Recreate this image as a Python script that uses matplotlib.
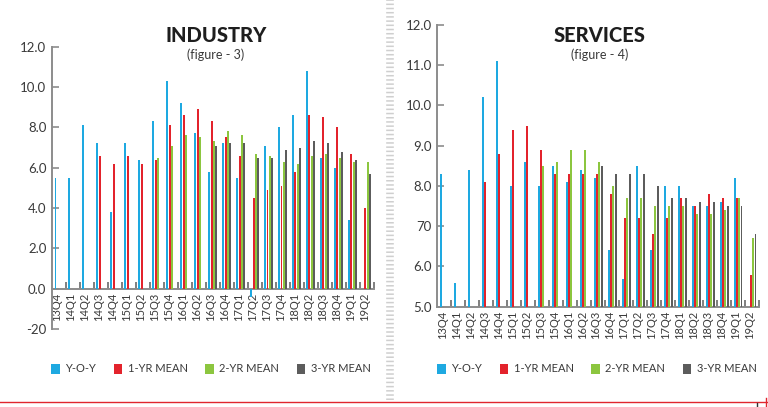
import numpy as np
import matplotlib
matplotlib.use('Agg')
import matplotlib.pyplot as plt
from matplotlib.lines import Line2D
from matplotlib.patches import Patch

plt.rcParams['font.family'] = ['Lato', 'DejaVu Sans']

# ── data ──────────────────────────────────────────────
quarters = ['13Q4', '14Q1', '14Q2', '14Q3', '14Q4', '15Q1', '15Q2', '15Q3',
            '15Q4', '16Q1', '16Q2', '16Q3', '16Q4', '17Q1', '17Q2', '17Q3',
            '17Q4', '18Q1', '18Q2', '18Q3', '18Q4', '19Q1', '19Q2']
N = None

ind_yoy = [5.5, 5.5, 8.1, 7.2, 3.8, 7.2, 6.4, 8.3, 10.3, 9.2, 7.7, 5.8,
           7.2, 5.5, -0.4, 7.1, 8.0, 8.6, 10.8, 6.5, 6.0, 3.4, N]
ind_1yr = [N, N, N, 6.6, 6.2, 6.6, 6.2, 6.4, 8.1, 8.6, 8.9, 8.3,
           7.5, 6.6, 4.5, 4.9, 5.1, 5.8, 8.6, 8.5, 8.0, 6.7, 4.0]
ind_2yr = [N, N, N, N, N, N, N, 6.5, 7.1, 7.6, 7.5, 7.3,
           7.8, 7.6, 6.7, 6.6, 6.3, 6.2, 6.6, 6.7, 6.5, 6.3, 6.3]
ind_3yr = [N, N, N, N, N, N, N, N, N, N, N, 7.1,
           7.2, 7.2, 6.5, 6.5, 6.9, 7.0, 7.3, 7.2, 6.8, 6.4, 5.7]

srv_yoy = [8.3, 5.6, 8.4, 10.2, 11.1, 8.0, 8.6, 8.0, 8.5, 8.1, 8.4, 8.2,
           6.4, 5.7, 8.5, 6.4, 8.0, 8.0, 7.5, 7.5, 7.6, 8.2, N]
srv_1yr = [N, N, N, 8.1, 8.8, 9.4, 9.5, 8.9, 8.3, 8.3, 8.3, 8.3,
           7.8, 7.2, 7.2, 6.8, 7.2, 7.7, 7.5, 7.8, 7.7, 7.7, 5.8]
srv_2yr = [N, N, N, N, N, N, N, 8.5, 8.6, 8.9, 8.9, 8.6,
           8.0, 7.7, 7.7, 7.5, 7.5, 7.5, 7.3, 7.3, 7.4, 7.7, 6.7]
srv_3yr = [N, N, N, N, N, N, N, N, N, N, N, 8.5,
           8.3, 8.3, 8.3, 8.0, 7.7, 7.7, 7.6, 7.6, 7.5, 7.5, 6.8]

series_names = ['Y-O-Y', '1-YR MEAN', '2-YR MEAN', '3-YR MEAN']
COLORS = ['#1ea9e1', '#e3232c', '#8cc63f', '#5c5c5c']

SPINE_C = '#8c8c8c'
TEXT_C = '#3a3a3a'

W, H = 768, 407
fig = plt.figure(figsize=(W / 100, H / 100), dpi=100, facecolor='white')


def px_axes(x0, x1, ytop, ybot):
    return fig.add_axes([x0 / W, 1 - ybot / H, (x1 - x0) / W, (ybot - ytop) / H])


def draw_panel(ax, data, ylim, yticks, yticklabels, zero_at):
    x = np.arange(len(quarters))
    offs = [-0.25, -0.083, 0.083, 0.25]
    for vals, off, c in zip(data, offs, COLORS):
        v = np.array([np.nan if a is None else a for a in vals], dtype=float)
        ax.bar(x + off, v - zero_at, bottom=zero_at, width=0.14, color=c,
               edgecolor='none', zorder=3)
    ax.set_xlim(-0.5, len(quarters) - 0.5)
    ax.set_ylim(*ylim)
    for s in ['top', 'right']:
        ax.spines[s].set_visible(False)
    for s in ['left', 'bottom']:
        ax.spines[s].set_color(SPINE_C)
        ax.spines[s].set_linewidth(1.4)
    ax.spines['bottom'].set_position(('data', zero_at))
    ax.set_yticks(yticks)
    ax.set_yticklabels(yticklabels)
    ax.tick_params(axis='y', direction='in', length=5, width=1.2,
                   color=SPINE_C, labelsize=9.5, labelcolor=TEXT_C, pad=4)
    ax.set_xticks(x - 0.15)
    ax.set_xticklabels(quarters, rotation=90)
    ax.tick_params(axis='x', which='major', length=0, labelsize=8,
                   labelcolor=TEXT_C, pad=3)
    ax.set_xticks(np.arange(0.5, len(quarters), 1), minor=True)
    ax.tick_params(axis='x', which='minor', direction='in', length=5,
                   width=1.2, color='#6a6a6a')
    ax.patch.set_visible(False)


# ── industry ──────────────────────────────────────────
ax1 = px_axes(52, 373.5, 46.7, 329)
draw_panel(ax1, [ind_yoy, ind_1yr, ind_2yr, ind_3yr], (-2, 12),
           [-2, 0, 2, 4, 6, 8, 10, 12],
           ['-20', '0.0', '2.0', '4.0', '6.0', '8.0', '10.0', '12.0'], 0)

# ── services ──────────────────────────────────────────
ax2 = px_axes(437.3, 759, 25, 306.7)
draw_panel(ax2, [srv_yoy, srv_1yr, srv_2yr, srv_3yr], (5, 12),
           [5, 6, 7, 8, 9, 10, 11, 12],
           ['5.0', '6.0', '70', '8.0', '9.0', '10.0', '11.0', '12.0'], 5)

# titles
fig.text(216 / W, 1 - 35 / H, 'INDUSTRY', ha='center', va='center',
         fontsize=14.5, fontweight='black', color='#1e1e1e')
fig.text(216 / W, 1 - 55 / H, '(figure - 3)', ha='center', va='center',
         fontsize=9, color=TEXT_C)
fig.text(600 / W, 1 - 35 / H, 'SERVICES', ha='center', va='center',
         fontsize=14.5, fontweight='black', color='#1e1e1e')
fig.text(600 / W, 1 - 55 / H, '(figure - 4)', ha='center', va='center',
         fontsize=9, color=TEXT_C)

# legends
handles = [Patch(facecolor=c, edgecolor='none') for c in COLORS]
for cx in (211 / W, 597 / W):
    fig.legend(handles, series_names, loc='center', ncol=4,
               bbox_to_anchor=(cx, 1 - 369 / H), frameon=False,
               fontsize=8, labelcolor=TEXT_C, handlelength=0.75,
               handleheight=1.0, handletextpad=0.5, columnspacing=1.6)

# separator and bottom rule
fig.add_artist(Line2D([390 / W, 390 / W], [1 - 400 / H, 1.0], color='#cfcfcf',
                      lw=5.5, dashes=(0.2, 0.35), dash_capstyle='butt'))
fig.add_artist(Line2D([0, 1], [1 - 402 / H, 1 - 402 / H], color='#e0262e', lw=1.0))
fig.add_artist(Line2D([766 / W, 766 / W], [1 - 407 / H, 1 - 398 / H], color='#e0262e', lw=1.0))
fig.add_artist(Line2D([757 / W, 757 / W], [0, 1 - 403 / H], color='#333333', lw=1.0))

fig.savefig('out.png', dpi=100, facecolor='white')
